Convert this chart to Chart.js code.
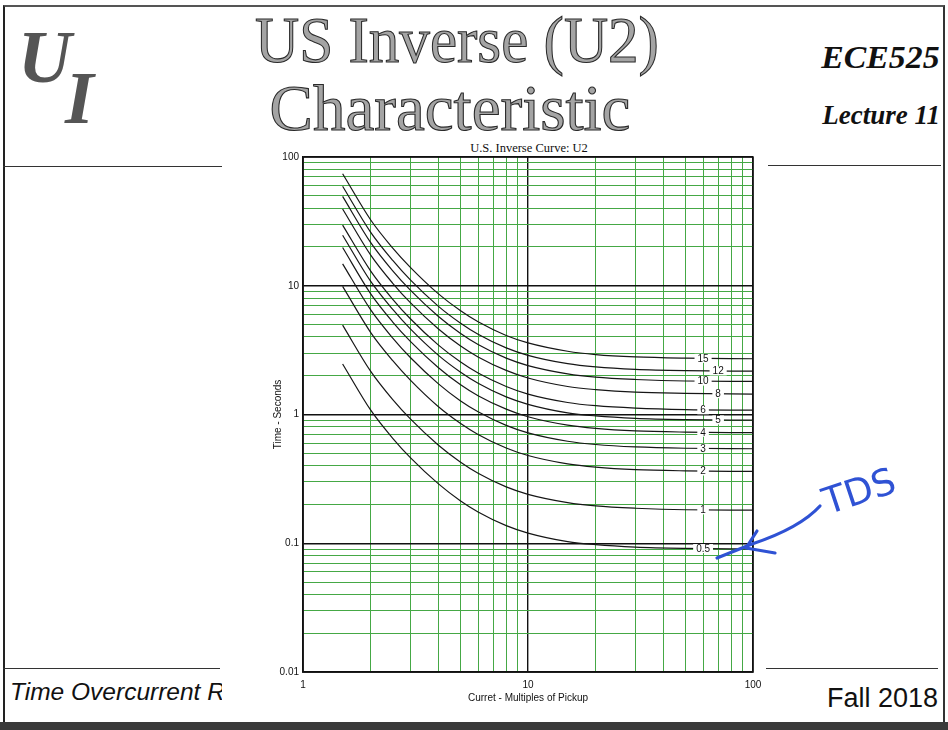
<!DOCTYPE html>
<html>
<head>
<meta charset="utf-8">
<script src="https://cdn.jsdelivr.net/npm/chart.js@4.4.1/dist/chart.umd.min.js"></script>
<style>
  body { margin: 0; background: #fff; }
  #page { position: relative; width: 948px; height: 730px; overflow: hidden; background: #fff; }
  .t { position: absolute; white-space: nowrap; line-height: 1; }
  .serif { font-family: 'Liberation Serif', 'Times New Roman', serif; }
  .sans { font-family: 'Liberation Sans', Arial, sans-serif; }
  .rule { position: absolute; height: 0; border-top: 1.5px solid #333; }
  #frame { position: absolute; left: 3px; top: 5px; width: 938px; height: 717px;
           border-top: 2px solid #555; border-left: 2px solid #222; border-right: 2px solid #333; }
  #band { position: absolute; left: 0; top: 722px; width: 948px; height: 8px; background: #3a3a3a; }
  .big { font-size: 65px; color: #a4a4a4; -webkit-text-stroke: 1.1px #2a2a2a; text-align: center; }
  .logo { font-weight: bold; font-style: italic; font-size: 74px; color: #555; }
  .course { font-weight: bold; font-style: italic; color: #111; right: 8px; transform-origin: right center; }
  canvas { position: absolute; left: 0; top: 0; }
</style>
</head>
<body>
<div id="page">
  <div id="frame"></div>
  <div id="band"></div>

  <div class="t serif logo" style="left:18px; top:20px;">U</div>
  <div class="t serif logo" style="left:65px; top:61px;">I</div>

  <div class="t serif big" style="left:207px; width:500px; top:8px; transform:scaleX(0.94);">US Inverse (U2)</div>
  <div class="t serif big" style="left:200px; width:500px; top:76px;">Characteristic</div>

  <div class="t serif course" style="font-size:31px; top:42px; transform:scaleX(1.09);">ECE525</div>
  <div class="t serif course" style="font-size:27px; top:102px;">Lecture 11</div>

  <div class="rule" style="left:3px; width:219px; top:166px;"></div>
  <div class="rule" style="left:768px; width:173px; top:165px;"></div>
  <div class="rule" style="left:3px; width:217px; top:668px;"></div>
  <div class="rule" style="left:766px; width:172px; top:668px;"></div>

  <div class="t sans" style="left:10px; top:680px; width:212px; overflow:hidden; font-size:24.5px; font-style:italic; color:#111;">Time Overcurrent Relays</div>
  <div class="t sans" style="right:10px; top:685px; font-size:27px; color:#111;">Fall 2018</div>

  <div class="t serif" style="left:429px; width:200px; top:142px; font-size:12.5px; text-align:center; color:#111;">U.S. Inverse Curve: U2</div>

  <canvas id="c" width="948" height="730"></canvas>
</div>

<script>
// current in multiples of pickup
const multiples = [1.5, 2, 2.5, 3, 4, 5, 6, 8, 10, 15, 20, 30, 50, 100];

// operating time (s) per time dial setting
const tds15  = [74.1, 32.4, 19.7, 13.9, 8.65, 6.42, 5.25, 4.11, 3.60, 3.10, 2.92, 2.80, 2.74, 2.71];
const tds12  = [59.3, 26.0, 15.8, 11.1, 6.92, 5.14, 4.20, 3.29, 2.88, 2.48, 2.34, 2.24, 2.19, 2.17];
const tds10  = [49.4, 21.6, 13.1, 9.24, 5.77, 4.28, 3.50, 2.74, 2.40, 2.07, 1.95, 1.87, 1.82, 1.81];
const tds8   = [39.5, 17.3, 10.5, 7.39, 4.62, 3.42, 2.80, 2.20, 1.92, 1.65, 1.56, 1.49, 1.46, 1.44];
const tds6   = [29.6, 13.0, 7.88, 5.54, 3.46, 2.57, 2.10, 1.65, 1.44, 1.24, 1.17, 1.12, 1.09, 1.08];
const tds5   = [24.7, 10.8, 6.57, 4.62, 2.88, 2.14, 1.75, 1.37, 1.20, 1.03, 0.975, 0.933, 0.912, 0.903];
const tds4   = [19.8, 8.65, 5.25, 3.70, 2.31, 1.71, 1.40, 1.10, 0.960, 0.826, 0.780, 0.746, 0.730, 0.722];
const tds3   = [14.8, 6.49, 3.94, 2.77, 1.73, 1.28, 1.05, 0.823, 0.720, 0.620, 0.585, 0.560, 0.547, 0.542];
const tds2   = [9.88, 4.33, 2.63, 1.85, 1.15, 0.856, 0.700, 0.549, 0.480, 0.413, 0.390, 0.373, 0.365, 0.361];
const tds1   = [4.94, 2.16, 1.31, 0.924, 0.577, 0.428, 0.350, 0.274, 0.240, 0.207, 0.195, 0.187, 0.182, 0.181];
const tds0_5 = [2.47, 1.08, 0.656, 0.462, 0.289, 0.214, 0.175, 0.137, 0.120, 0.103, 0.0975, 0.0933, 0.0912, 0.0903];

const tdsNames = ['15', '12', '10', '8', '6', '5', '4', '3', '2', '1', '0.5'];
const tdsSeries = [tds15, tds12, tds10, tds8, tds6, tds5, tds4, tds3, tds2, tds1, tds0_5];

const xTickLabels = ['1', '10', '100'];
const yTickLabels = ['0.01', '0.1', '1', '10', '100'];

// gridline positions: 1..9 in every decade
const decadeSteps = (fromExp, toExp) => {
  const out = [];
  for (let e = fromExp; e < toExp; e++)
    for (let k = 1; k <= 9; k++) out.push(Number((k * Math.pow(10, e)).toPrecision(6)));
  out.push(Number(Math.pow(10, toExp).toPrecision(6)));
  return out;
};
const xGrid = decadeSteps(0, 2);
const yGrid = decadeSteps(-2, 2);

const isDecade = v => v > 0 && Math.abs(Math.log10(v) - Math.round(Math.log10(v))) < 1e-6;
const GREEN = '#45a845';
const tickFont = { family: "'Liberation Sans Narrow', 'Liberation Sans', Arial, sans-serif", size: 10 };

const datasets = tdsNames.map((name, i) => ({
  label: name,
  data: multiples.map((m, j) => ({ x: m, y: tdsSeries[i][j] })),
  borderColor: '#161616',
  borderWidth: 1.2,
  pointRadius: 0,
  cubicInterpolationMode: 'monotone'
}));

// TDS numbers sitting on the curves, on white boxes
const labelsAt70 = ['12', '8', '5'];
const curveLabels = {
  id: 'curveLabels',
  afterDatasetsDraw(chart) {
    const { ctx } = chart;
    const xs = chart.scales.x;
    ctx.save();
    ctx.font = '10px ' + tickFont.family;
    ctx.textAlign = 'center';
    ctx.textBaseline = 'middle';
    chart.data.datasets.forEach((ds, i) => {
      const px = xs.getPixelForValue(labelsAt70.includes(ds.label) ? 70 : 60);
      const pts = chart.getDatasetMeta(i).data;
      let py = pts[pts.length - 1].y;
      for (let j = 1; j < pts.length; j++) {
        if (pts[j].x >= px) {
          const a = pts[j - 1], b = pts[j];
          py = a.y + (b.y - a.y) * (px - a.x) / (b.x - a.x);
          break;
        }
      }
      const w = ctx.measureText(ds.label).width;
      ctx.fillStyle = '#fff';
      ctx.fillRect(px - w / 2 - 3, py - 4.5, w + 6, 9);
      ctx.fillStyle = '#111';
      ctx.fillText(ds.label, px, py + 0.5);
    });
    ctx.restore();
  }
};

const plotFrame = {
  id: 'plotFrame',
  afterDraw(chart) {
    const { ctx, chartArea: a } = chart;
    ctx.save();
    ctx.strokeStyle = '#111';
    ctx.lineWidth = 1.5;
    ctx.strokeRect(a.left, a.top, a.right - a.left, a.bottom - a.top);
    ctx.restore();
  }
};

// the hand-written "TDS" note with its arrow
const penNote = {
  id: 'penNote',
  afterDraw(chart) {
    const { ctx } = chart;
    ctx.save();
    ctx.strokeStyle = '#2f52d4';
    ctx.fillStyle = '#2f52d4';
    ctx.lineWidth = 3.2;
    ctx.lineCap = 'round';
    ctx.lineJoin = 'round';
    ctx.beginPath();
    ctx.moveTo(820, 506);
    ctx.quadraticCurveTo(800, 528, 752, 544);
    ctx.lineTo(717, 558);
    ctx.stroke();
    ctx.beginPath();
    ctx.moveTo(757, 531);
    ctx.lineTo(746, 548);
    ctx.lineTo(775, 553);
    ctx.stroke();
    ctx.translate(860, 494);
    ctx.rotate(-0.32);
    ctx.font = '37px "DejaVu Sans", sans-serif';
    ctx.textAlign = 'center';
    ctx.textBaseline = 'middle';
    ctx.fillText('TDS', 0, 0);
    ctx.restore();
  }
};

new Chart(document.getElementById('c'), {
  type: 'line',
  data: { datasets },
  options: {
    responsive: false,
    animation: false,
    devicePixelRatio: 1,
    layout: { padding: { left: 270, top: 157, right: 195, bottom: 22 } },
    plugins: { legend: { display: false }, tooltip: { enabled: false } },
    scales: {
      x: {
        type: 'logarithmic',
        min: 1,
        max: 100,
        afterBuildTicks: s => { s.ticks = xGrid.map(v => ({ value: v })); },
        afterFit: s => { s.height = 36; },
        grid: {
          drawTicks: false,
          color: c => isDecade(c.tick && c.tick.value) ? '#111' : GREEN,
          lineWidth: c => isDecade(c.tick && c.tick.value) ? 1.4 : 1
        },
        border: { display: true, color: '#111', width: 1.5 },
        ticks: {
          autoSkip: false,
          maxRotation: 0,
          padding: 7,
          color: '#111',
          font: tickFont,
          callback: v => xTickLabels.includes(String(v)) ? String(v) : ''
        },
        title: {
          display: true,
          text: 'Curret - Multiples of Pickup',
          color: '#111',
          font: tickFont,
          padding: { top: 2, bottom: 4 }
        }
      },
      y: {
        type: 'logarithmic',
        min: 0.01,
        max: 100,
        afterBuildTicks: s => { s.ticks = yGrid.map(v => ({ value: v })); },
        afterFit: s => { s.width = 33; },
        grid: {
          drawTicks: false,
          color: c => isDecade(c.tick && c.tick.value) ? '#111' : GREEN,
          lineWidth: c => isDecade(c.tick && c.tick.value) ? 1.4 : 1
        },
        border: { display: true, color: '#111', width: 1.5 },
        ticks: {
          autoSkip: false,
          padding: 4,
          color: '#111',
          font: tickFont,
          callback: v => yTickLabels.includes(String(v)) ? String(v) : ''
        },
        title: {
          display: true,
          text: 'Time - Seconds',
          color: '#111',
          font: tickFont,
          padding: { top: 2, bottom: 2 }
        }
      }
    }
  },
  plugins: [curveLabels, plotFrame, penNote]
});
</script>
</body>
</html>
